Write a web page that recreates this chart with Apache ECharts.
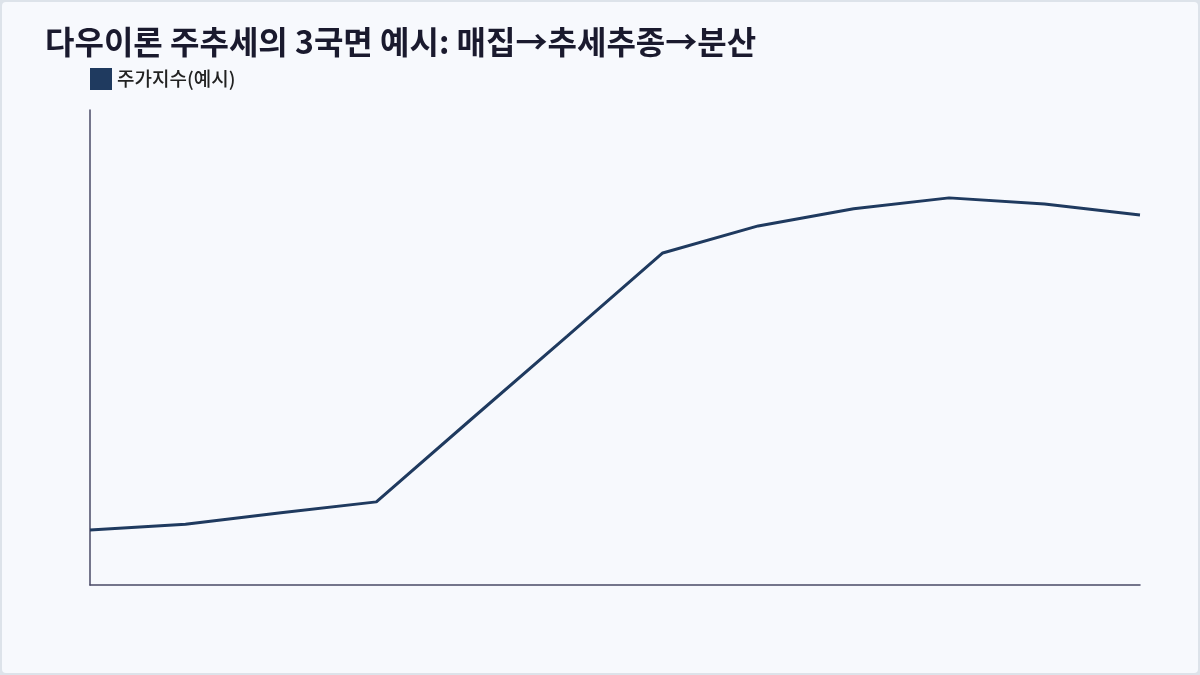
<!DOCTYPE html>
<html>
<head>
<meta charset="utf-8">
<script src="https://cdn.jsdelivr.net/npm/echarts@6/dist/echarts.min.js"></script>
<style>
html,body{margin:0;padding:0;background:#dde3ea;}
#chart{position:absolute;left:2px;top:2px;width:1196px;height:671px;background:#f7f9fd;border-radius:4px;}
</style>
</head>
<body>
<div id="chart"></div>
<script>
const titleText = '다우이론 주추세의 3국면 예시: 매집→추세추종→분산';
const seriesName = '주가지수(예시)';
const categories = ['1','2','3','4','5','6','7','8','9','10','11','12'];
const values = [11.6, 12.8, 15.2, 17.5, 35.0, 52.4, 69.9, 75.6, 79.2, 81.5, 80.2, 77.9];

const chart = echarts.init(document.getElementById('chart'));
chart.setOption({
  backgroundColor: 'transparent',
  title: {
    text: titleText,
    left: 38, top: 19,
    textStyle: {fontFamily: 'Noto Sans CJK KR', fontWeight: 'bold', fontSize: 32, color: '#1a1a2e'}
  },
  legend: {
    left: 83, top: 61,
    icon: 'rect', itemWidth: 22, itemHeight: 22, itemGap: 8, itemTextGap: 10,
    textStyle: {fontFamily: 'Noto Sans CJK KR', fontWeight: 500, fontSize: 19, color: '#222'},
    data: [seriesName]
  },
  grid: {left: 88, right: 58, top: 108, bottom: 88},
  xAxis: {
    type: 'category', data: categories, boundaryGap: false,
    axisLine: {show: true, lineStyle: {color: '#4a4a66', width: 1.5}},
    axisTick: {show: false}, axisLabel: {show: false}, splitLine: {show: false}
  },
  yAxis: {
    type: 'value', min: 0, max: 100,
    axisLine: {show: true, lineStyle: {color: '#4a4a66', width: 1.5}},
    axisTick: {show: false}, axisLabel: {show: false}, splitLine: {show: false}
  },
  series: [{
    name: seriesName, type: 'line', data: values,
    showSymbol: false, symbol: 'none',
    lineStyle: {color: '#1f3a5f', width: 3},
    itemStyle: {color: '#1f3a5f'}
  }]
});
</script>
</body>
</html>
